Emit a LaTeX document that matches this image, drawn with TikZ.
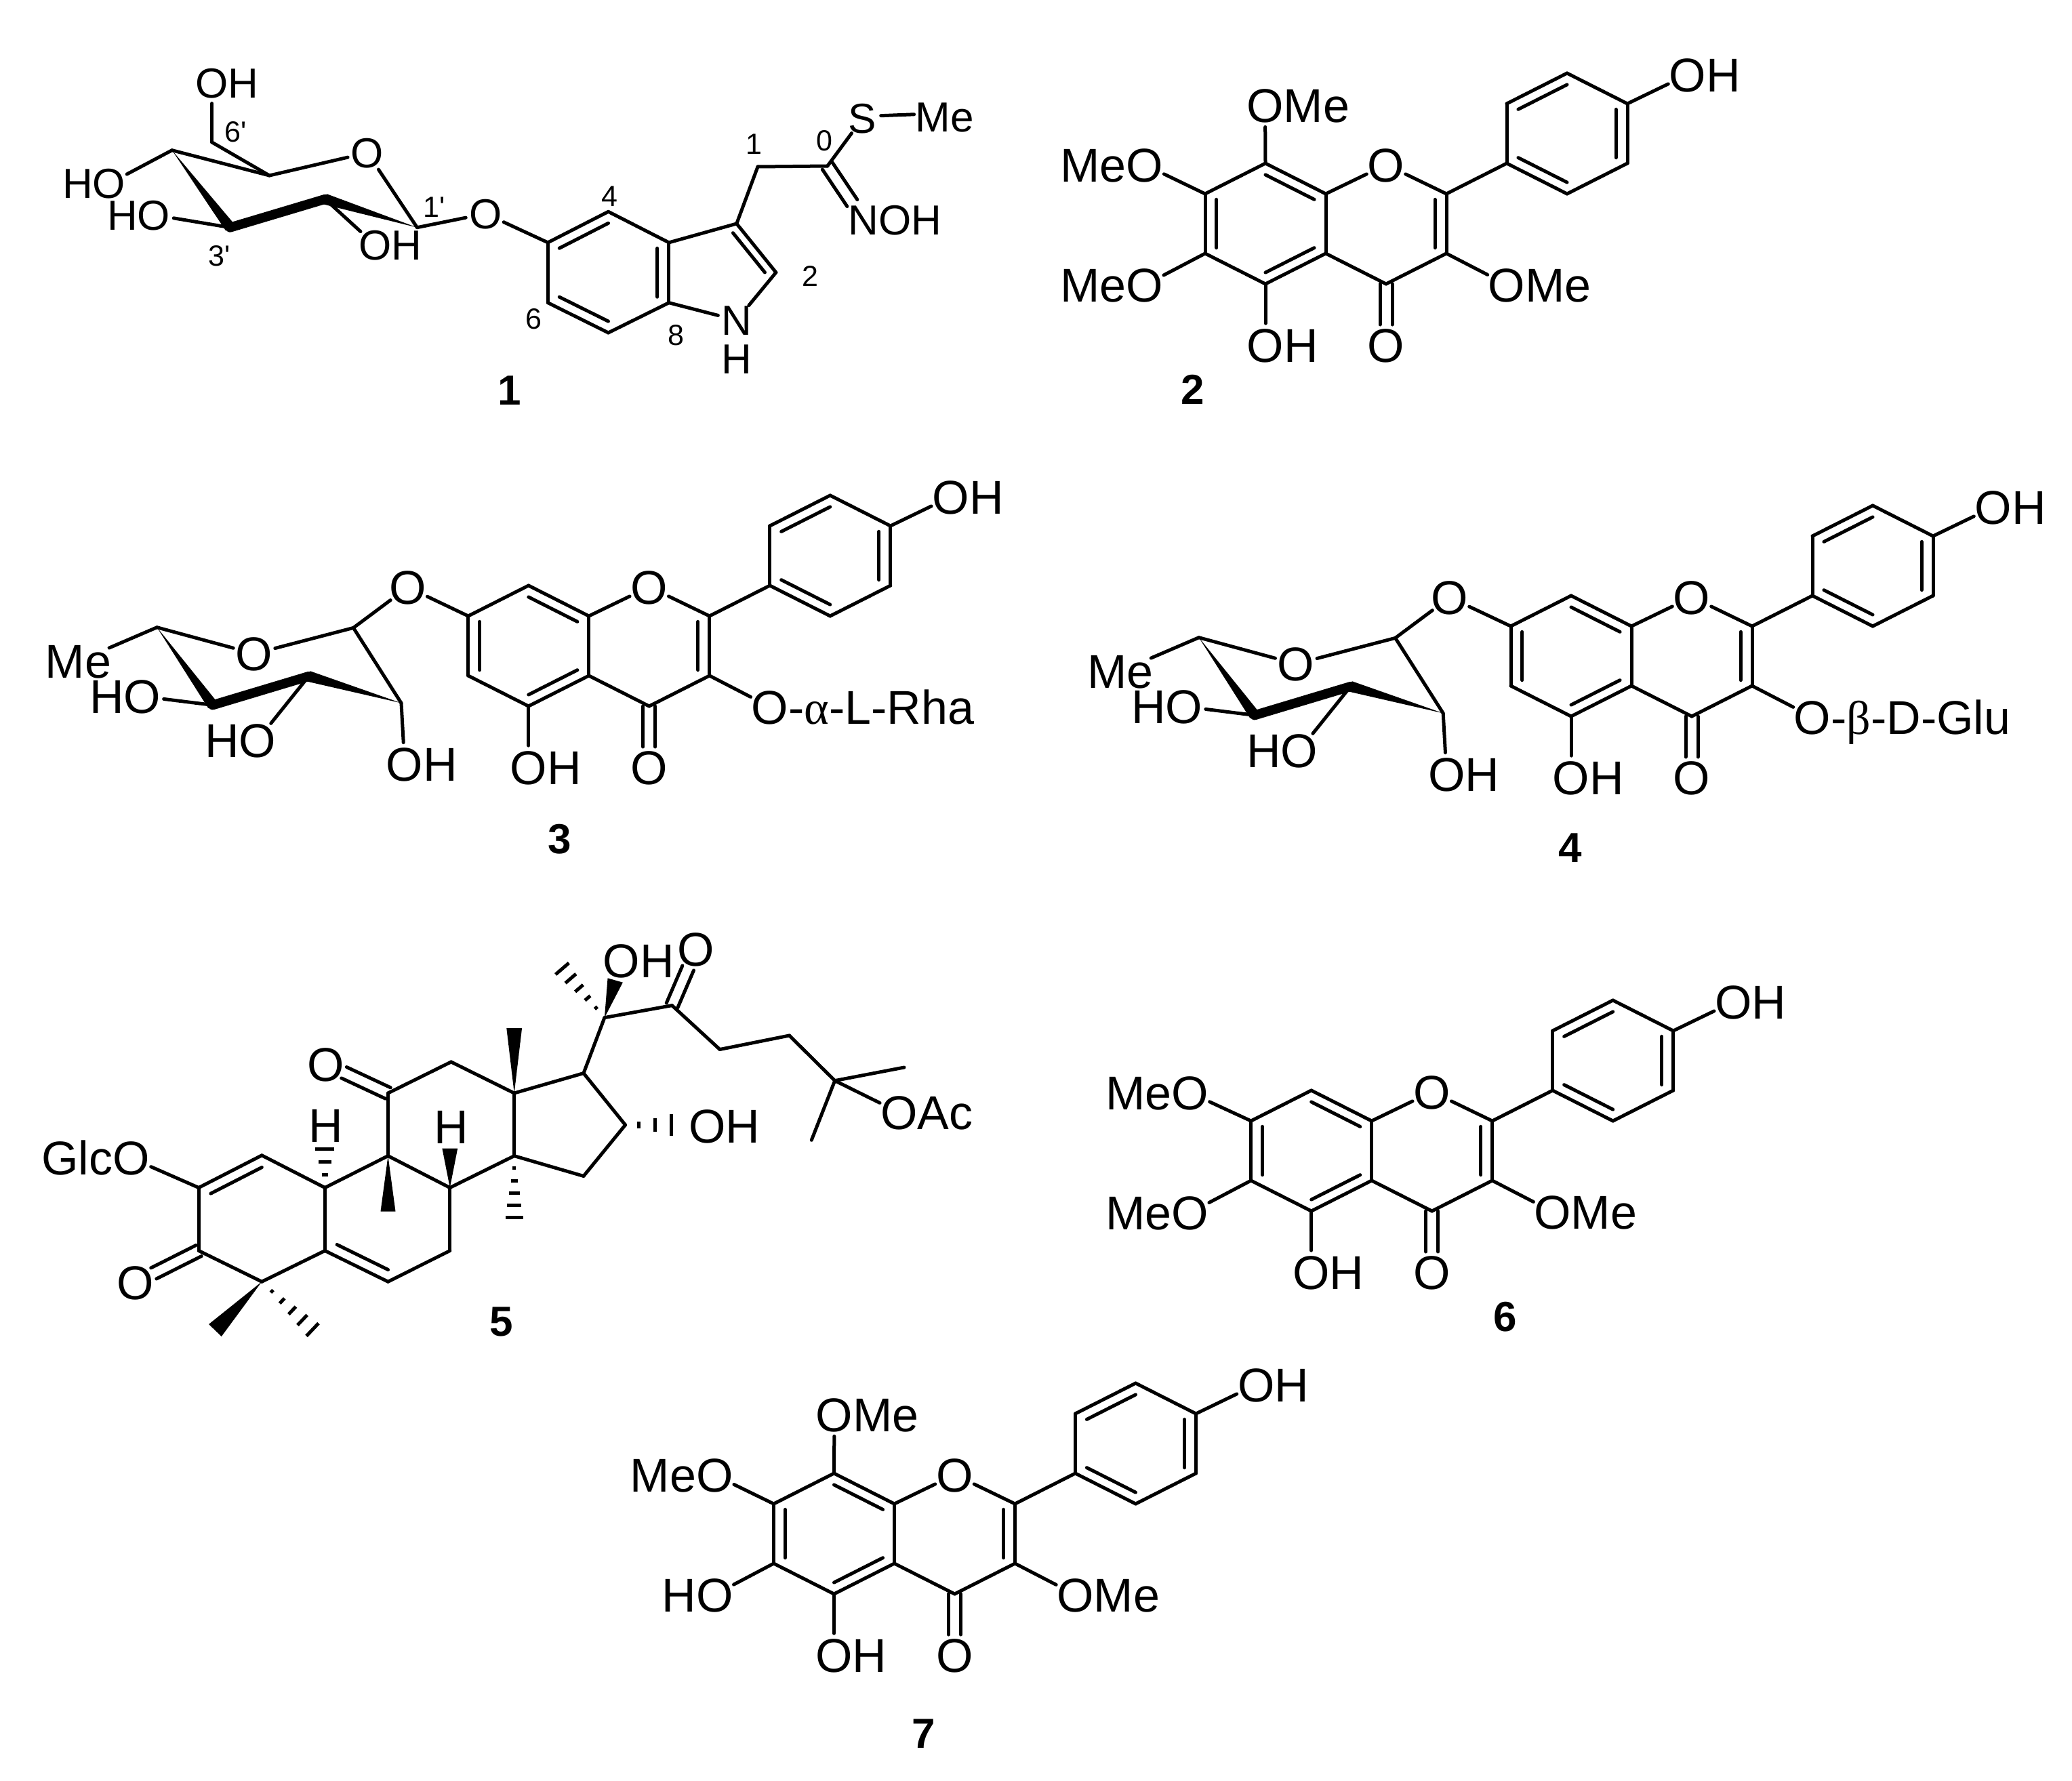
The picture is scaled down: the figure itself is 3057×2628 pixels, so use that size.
\documentclass[tikz,border=0pt]{standalone}
\usepackage{fontspec}
\setmainfont{Liberation Sans}[Ligatures=TeXOff]
\newfontfamily\symfont{Liberation Serif}
\usetikzlibrary{calc}
\tikzstyle{bond} = [line width=2.5pt,line cap=round,line join=round]
\tikzstyle{boldbond} = [line width=7pt,line cap=round]
\tikzstyle{hashline} = [line width=2.5pt]
\tikzstyle{lab} = [circle,inner sep=0pt,outer sep=-2.5pt,font=\fontsize{35}{35}\selectfont,text height=25pt,text depth=0pt]
\tikzstyle{labsm} = [lab,font=\fontsize{31}{31}\selectfont,text height=22pt,outer sep=-1.5pt]
\tikzstyle{tag} = [inner sep=0pt,font=\fontsize{21.5}{22}\selectfont]
\tikzstyle{cpdno} = [inner sep=0pt,font=\fontsize{31}{31}\selectfont\bfseries]

\newcommand{\dbl}[3]{
	\draw [bond] (#1) -- (#2);
	\draw [bond] ($(#1)!0.19!(#3)$) -- ($(#2)!0.19!(#3)$);
}
\newcommand{\cobond}[2]{
	\draw [bond,shorten >=15pt] ($(#1)!4.5pt!90:(#2)$) -- ($(#2)!4.5pt!-90:(#1)$);
	\draw [bond,shorten >=15pt] ($(#1)!4.5pt!-90:(#2)$) -- ($(#2)!4.5pt!90:(#1)$);
}
\newcommand{\wdg}[3]{
	\fill ($(#2)!#3!90:(#1)$) -- ($(#2)!#3!-90:(#1)$) -- (#1) -- cycle;
}
\newcommand{\hsh}[4]{
	\foreach \hs in {#3} {
		\draw [hashline] ($(#1)!\hs!(#2)!{\hs*#4}!90:(#1)$) -- ($(#1)!\hs!(#2)!{\hs*#4}!-90:(#1)$);
	}
}
\newcommand{\flavone}[4]{
	\begin{scope}[shift={(#2,#3)}]
	\coordinate (#1c8a) at (0,0);
	\coordinate (#1c4a) at (0,88);
	\coordinate (#1c5) at (-89,133);
	\coordinate (#1c6) at (-178,88);
	\coordinate (#1c7) at (-178,0);
	\coordinate (#1c8) at (-89,-45);
	\coordinate (#1c2) at (178,0);
	\coordinate (#1c3) at (178,88);
	\coordinate (#1c4) at (89,133);
	\coordinate (#1b1) at (267,-45);
	\coordinate (#1b2) at (267,-133);
	\coordinate (#1b3) at (356,-178);
	\coordinate (#1b4) at (445,-133);
	\coordinate (#1b5) at (445,-45);
	\coordinate (#1b6) at (356,0);
	\coordinate (#1ca) at (-89,44);
	\coordinate (#1cc) at (89,44);
	\coordinate (#1cb) at (356,-89);
	\node [lab] (#1o1) at (89,-43) {O};
	\node [lab] (#1o3) at (267,134) {O\rlap{#4}};
	\node [lab] (#1o4) at (89,223) {O};
	\node [lab] (#1o5) at (-89,223) {O\rlap{H}};
	\node [lab] (#1ob) at (534,-176) {O\rlap{H}};
	\end{scope}
	\dbl{#1c7}{#1c6}{#1ca}
	\dbl{#1c8}{#1c8a}{#1ca}
	\dbl{#1c5}{#1c4a}{#1ca}
	\dbl{#1c2}{#1c3}{#1cc}
	\dbl{#1b2}{#1b3}{#1cb}
	\dbl{#1b4}{#1b5}{#1cb}
	\dbl{#1b6}{#1b1}{#1cb}
	\draw [bond] (#1c7) -- (#1c8);
	\draw [bond] (#1c5) -- (#1c6);
	\draw [bond] (#1c8a) -- (#1c4a);
	\draw [bond] (#1c8a) -- (#1o1);
	\draw [bond] (#1c2) -- (#1o1);
	\draw [bond] (#1c4a) -- (#1c4);
	\draw [bond] (#1c3) -- (#1c4);
	\draw [bond] (#1c2) -- (#1b1);
	\draw [bond] (#1b1) -- (#1b2);
	\draw [bond] (#1b3) -- (#1b4);
	\draw [bond] (#1b5) -- (#1b6);
	\draw [bond] (#1b4) -- (#1ob);
	\draw [bond] (#1c5) -- (#1o5);
	\draw [bond] (#1c3) -- (#1o3);
	\cobond{#1c4}{#1o4}
}
\newcommand{\rhaside}[3]{
	\begin{scope}[shift={(#2,#3)}]
	\coordinate (#1s1) at (-347.4,16.4);
	\coordinate (#1s2) at (-276.8,127.4);
	\coordinate (#1s3) at (-413.4,87.9);
	\coordinate (#1s4) at (-555,130.4);
	\coordinate (#1s5) at (-637.2,15.7);
	\node [lab] (#1o7) at (-267.1,-43.5) {O};
	\node [lab] (#1os) at (-493.8,54.6) {O};
	\node [lab] (#1me) at (-753.3,65.6) {Me};
	\node [lab] (#1hs4) at (-658.8,117.5) {\llap{H}O};
	\node [lab] (#1hs3) at (-489,182.2) {\llap{H}O};
	\node [lab] (#1hs2) at (-271.8,217.4) {O\rlap{H}};
	\end{scope}
	\draw [bond] (#1c7) -- (#1o7);
	\draw [bond] (#1s1) -- (#1o7);
	\draw [bond] (#1s1) -- (#1os);
	\draw [bond] (#1s5) -- (#1os);
	\draw [bond] (#1s1) -- (#1s2);
	\draw [bond] (#1s5) -- (#1me);
	\draw [bond] (#1s4) -- (#1hs4);
	\draw [bond] (#1s3) -- (#1hs3);
	\draw [bond] (#1s2) -- (#1hs2);
	\wdg{#1s5}{#1s4}{4pt}
	\draw [boldbond] (#1s4) -- (#1s3);
	\wdg{#1s2}{#1s3}{4pt}
}

\begin{document}
\begin{tikzpicture}[x=0.5pt,y=-0.5pt]
	\useasboundingbox (0,0) rectangle (3057,2628);

	\coordinate (m1c1s) at (615.4,335.7);
	\coordinate (m1c2s) at (479.7,293.8);
	\coordinate (m1c3s) at (339.5,335.7);
	\coordinate (m1c4s) at (253.8,221.7);
	\coordinate (m1c5s) at (397.5,259);
	\coordinate (m1c6s) at (312.7,209.9);
	\coordinate (m1c3a) at (986.9,357.9);
	\coordinate (m1c7a) at (986.9,446.7);
	\coordinate (m1c4) at (897.5,312.3);
	\coordinate (m1c5) at (808.3,357.9);
	\coordinate (m1c6) at (808.3,446.7);
	\coordinate (m1c7) at (897.5,491);
	\coordinate (m1c3) at (1086.8,330);
	\coordinate (m1c2) at (1144.9,402);
	\coordinate (m1ch) at (1118,246);
	\coordinate (m1cs) at (1220.8,245);
	\coordinate (m1ctr) at (897.5,402);
	\coordinate (m1ctp) at (1058.4,402);
	\node [labsm] (m1oh6) at (312.7,122.9) {O\rlap{H}};
	\node [labsm] (m1os) at (542,225.4) {O};
	\node [labsm] (m1oh4) at (161,270.9) {\llap{H}O};
	\node [labsm] (m1oh3) at (227,317) {\llap{H}O};
	\node [labsm] (m1oh2) at (553.8,361.6) {O\rlap{H}};
	\node [labsm] (m1ol) at (716.3,315.3) {O};
	\node [labsm] (m1n) at (1086.8,472.5) {N};
	\node [labsm] (m1h) at (1086.8,529) {H};
	\node [labsm] (m1s) at (1272.6,174.7) {S};
	\node [labsm] (m1me) at (1394,172.8) {Me};
	\node [labsm] (m1noh) at (1274,324.5) {N\rlap{OH}};
	\draw [bond] (m1c6s) -- (m1oh6);
	\draw [bond] (m1c6s) -- (m1c5s);
	\draw [bond] (m1c4s) -- (m1c5s);
	\draw [bond] (m1c5s) -- (m1os);
	\draw [bond] (m1c1s) -- (m1os);
	\draw [bond] (m1c4s) -- (m1oh4);
	\draw [bond] (m1c3s) -- (m1oh3);
	\draw [bond] (m1c2s) -- (m1oh2);
	\draw [bond] (m1c1s) -- (m1ol);
	\draw [bond] (m1c5) -- (m1ol);
	\wdg{m1c4s}{m1c3s}{4pt}
	\draw [boldbond] (m1c3s) -- (m1c2s);
	\wdg{m1c1s}{m1c2s}{4pt}
	\dbl{m1c5}{m1c4}{m1ctr}
	\dbl{m1c3a}{m1c7a}{m1ctr}
	\dbl{m1c6}{m1c7}{m1ctr}
	\dbl{m1c3}{m1c2}{m1ctp}
	\draw [bond] (m1c4) -- (m1c3a);
	\draw [bond] (m1c5) -- (m1c6);
	\draw [bond] (m1c7) -- (m1c7a);
	\draw [bond] (m1c3a) -- (m1c3);
	\draw [bond] (m1c7a) -- (m1n);
	\draw [bond] (m1c2) -- (m1n);
	\draw [bond] (m1c3) -- (m1ch);
	\draw [bond] (m1ch) -- (m1cs);
	\draw [bond] (m1cs) -- (m1s);
	\draw [bond] ([yshift=2pt]m1s.east) -- ([yshift=2pt]m1me.west);
	\cobond{m1cs}{m1noh}
	\node (m1t6s) [tag] at (347.5,195) {6'};
	\node (m1t3s) [tag] at (323.4,377.5) {3'};
	\node (m1t1s) [tag] at (640.4,306) {1'};
	\node (m1t4) [tag] at (899,289.4) {4};
	\node (m1t6) [tag] at (787.7,470.7) {6};
	\node (m1t8) [tag] at (997.6,494.8) {8};
	\node (m1t2) [tag] at (1195.8,407.8) {2};
	\node (m1t1) [tag] at (1112,212.4) {1};
	\node (m1t0) [tag] at (1216.3,208) {0};
	\node (m1no) [cpdno] at (752,576) {1};

	\flavone{m2}{1956}{286}{Me}
	\node [lab] (m2o8) at (1866.5,155.5) {O\rlap{Me}};
	\node [lab] (m2o7) at (1688.7,243) {\llap{Me}O};
	\node [lab] (m2o6) at (1688.7,420.8) {\llap{Me}O};
	\draw [bond] (m2c8) -- (m2o8);
	\draw [bond] (m2c7) -- (m2o7);
	\draw [bond] (m2c6) -- (m2o6);
	\node (m2no) [cpdno] at (1760,575) {2};

	\flavone{m3}{868.8}{909}{-{\symfont α}-L-Rha}
	\rhaside{m3}{868.8}{910}
	\node (m3no) [cpdno] at (826,1238) {3};

	\flavone{m4}{2407}{924}{-{\symfont β}-D-Glu}
	\rhaside{m4}{2406}{925}
	\node (m4no) [cpdno] at (2316.6,1251) {4};

	\coordinate (m5c1) at (386.3,1704.8);
	\coordinate (m5c2) at (293.2,1752.5);
	\coordinate (m5c3) at (293.2,1845.5);
	\coordinate (m5c4) at (386.3,1891.2);
	\coordinate (m5c5) at (479.4,1845.5);
	\coordinate (m5c6) at (572.5,1891.2);
	\coordinate (m5c7) at (663.8,1845.5);
	\coordinate (m5c8) at (663.8,1752.5);
	\coordinate (m5c9) at (572.5,1705.6);
	\coordinate (m5c10) at (479.4,1752.5);
	\coordinate (m5c11) at (572.5,1613);
	\coordinate (m5c12) at (665.6,1566.9);
	\coordinate (m5c13) at (758.7,1613);
	\coordinate (m5c14) at (758.7,1705.6);
	\coordinate (m5c15) at (861,1735.4);
	\coordinate (m5c16) at (922.6,1659.9);
	\coordinate (m5c17) at (861,1583.6);
	\coordinate (m5c20) at (891.9,1501.6);
	\coordinate (m5c22) at (991.5,1483.6);
	\coordinate (m5c23) at (1062,1548.5);
	\coordinate (m5c24) at (1164.6,1528);
	\coordinate (m5c25) at (1231.7,1594.6);
	\coordinate (m5ctra) at (386.3,1798);
	\coordinate (m5ctrb) at (572.5,1798);
	\coordinate (m5me4a) at (317.4,1963);
	\coordinate (m5me4b) at (461,1962);
	\coordinate (m5me9) at (572.5,1787.6);
	\coordinate (m5me13) at (758.7,1517);
	\coordinate (m5me14) at (758.7,1796.6);
	\coordinate (m5me20) at (829.5,1429.4);
	\coordinate (m5me25a) at (1334,1575);
	\coordinate (m5me25b) at (1197.3,1682.3);
	\coordinate (m5c10h) at (479.4,1695);
	\coordinate (m5c8h) at (663.8,1694.6);
	\coordinate (m5c20o) at (907.7,1446.5);
	\coordinate (m5c16o) at (990,1659.9);
	\node [lab] (m5glc) at (193.6,1708.8) {\llap{Glc}O};
	\node [lab] (m5o3) at (200,1892.4) {O};
	\node [lab] (m5o11) at (480.4,1570) {O};
	\node [lab] (m5h10) at (480.4,1660) {H};
	\node [lab] (m5h8) at (665.6,1662) {H};
	\node [lab] (m5oh16) at (1043.6,1661) {O\rlap{H}};
	\node [lab] (m5oh20) at (917,1417) {O\rlap{H}};
	\node [lab] (m5o22) at (1027,1400.8) {O};
	\node [lab] (m5oac) at (1326.6,1641.5) {O\rlap{Ac}};
	\dbl{m5c1}{m5c2}{m5ctra}
	\dbl{m5c5}{m5c6}{m5ctrb}
	\cobond{m5c3}{m5o3}
	\cobond{m5c11}{m5o11}
	\cobond{m5c22}{m5o22}
	\draw [bond] (m5c2) -- (m5glc);
	\draw [bond] (m5c2) -- (m5c3);
	\draw [bond] (m5c3) -- (m5c4);
	\draw [bond] (m5c4) -- (m5c5);
	\draw [bond] (m5c5) -- (m5c10);
	\draw [bond] (m5c10) -- (m5c1);
	\draw [bond] (m5c6) -- (m5c7);
	\draw [bond] (m5c7) -- (m5c8);
	\draw [bond] (m5c8) -- (m5c9);
	\draw [bond] (m5c9) -- (m5c10);
	\draw [bond] (m5c9) -- (m5c11);
	\draw [bond] (m5c11) -- (m5c12);
	\draw [bond] (m5c12) -- (m5c13);
	\draw [bond] (m5c13) -- (m5c14);
	\draw [bond] (m5c14) -- (m5c8);
	\draw [bond] (m5c14) -- (m5c15);
	\draw [bond] (m5c15) -- (m5c16);
	\draw [bond] (m5c16) -- (m5c17);
	\draw [bond] (m5c17) -- (m5c13);
	\draw [bond] (m5c17) -- (m5c20);
	\draw [bond] (m5c20) -- (m5c22);
	\draw [bond] (m5c22) -- (m5c23);
	\draw [bond] (m5c23) -- (m5c24);
	\draw [bond] (m5c24) -- (m5c25);
	\draw [bond] (m5c25) -- (m5me25a);
	\draw [bond] (m5c25) -- (m5me25b);
	\draw [bond] (m5c25) -- (m5oac);
	\wdg{m5c4}{m5me4a}{6.5pt}
	\hsh{m5c4}{m5me4b}{0.2,0.4,0.6,0.8,1}{6.5pt}
	\wdg{m5c9}{m5me9}{5.5pt}
	\wdg{m5c13}{m5me13}{5.7pt}
	\wdg{m5c8}{m5c8h}{5.7pt}
	\wdg{m5c20}{m5c20o}{5.8pt}
	\hsh{m5c10}{m5c10h}{0.33,0.66,1}{7pt}
	\hsh{m5c14}{m5me14}{0.2,0.4,0.6,0.8,1}{6.5pt}
	\hsh{m5c16}{m5c16o}{0.3,0.65,1}{8pt}
	\hsh{m5c20}{m5me20}{0.2,0.4,0.6,0.8,1}{6.5pt}
	\node (m5no) [cpdno] at (740,1950) {5};

	\flavone{m6}{2023.7}{1654}{Me}
	\node [lab] (m6o7) at (1755.7,1612.4) {\llap{Me}O};
	\node [lab] (m6o6) at (1755.7,1789.3) {\llap{Me}O};
	\draw [bond] (m6c7) -- (m6o7);
	\draw [bond] (m6c6) -- (m6o6);
	\node (m6no) [cpdno] at (2221,1943.6) {6};

	\flavone{m7}{1319.5}{2219}{Me}
	\node [lab] (m7o8) at (1231,2087.3) {O\rlap{Me}};
	\node [lab] (m7o7) at (1054.3,2176.5) {\llap{Me}O};
	\node [lab] (m7o6) at (1054.3,2353) {\llap{H}O};
	\draw [bond] (m7c8) -- (m7o8);
	\draw [bond] (m7c7) -- (m7o7);
	\draw [bond] (m7c6) -- (m7o6);
	\node (m7no) [cpdno] at (1363,2558) {7};
\end{tikzpicture}
\end{document}
